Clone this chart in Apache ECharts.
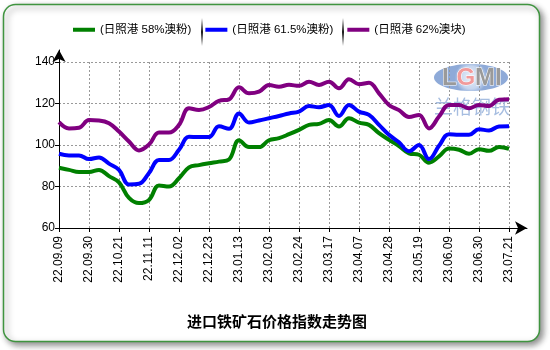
<!DOCTYPE html>
<html>
<head>
<meta charset="utf-8">
<script src="https://cdn.jsdelivr.net/npm/echarts@6/dist/echarts.min.js"></script>
<style>
html,body{margin:0;padding:0;background:#fff;}
#c{width:550px;height:350px;}
</style>
</head>
<body>
<div id="c"></div>
<script>
var categories = ['22.09.09','22.09.16','22.09.23','22.09.30','22.10.07','22.10.14','22.10.21','22.10.28','22.11.04','22.11.11','22.11.18','22.11.25','22.12.02','22.12.09','22.12.16','22.12.23','22.12.30','23.01.06','23.01.13','23.01.20','23.01.27','23.02.03','23.02.10','23.02.17','23.02.24','23.03.03','23.03.10','23.03.17','23.03.24','23.03.31','23.04.07','23.04.14','23.04.21','23.04.28','23.05.05','23.05.12','23.05.19','23.05.26','23.06.02','23.06.09','23.06.16','23.06.23','23.06.30','23.07.07','23.07.14','23.07.21'];

var seriesNames = ['(日照港 58%澳粉)', '(日照港 61.5%澳粉)', '(日照港 62%澳块)'];

var fines58 = [89,88,87,87,88,85,82,74.5,72,73.5,80.5,80,84,89.2,90.3,91.2,92,93,102.3,99,99,102.3,103.3,105.2,107.3,109.7,110.2,112,108.9,112.9,110.8,109.7,105.7,102.5,99.5,96,95.3,91.5,94.5,98.3,97.7,95.8,98,97.2,99,98.2];

var fines615 = [95.8,95,95,93.2,94,91,88,81,81.3,86.5,92.8,92.8,97.7,104,103.8,103.8,109,107.8,115.2,110.8,111.8,112.9,114,115.2,116.1,118.8,118.2,119.3,114,119.3,116.1,114.5,109.7,104.9,101.3,97,100,93.2,99.6,105.2,104.9,104.9,107.6,107,108.9,109];

var lump62 = [111,108,108.3,112,111.8,110.5,106.5,101.7,97.4,100.2,106,106,109.7,117.7,116.9,118.3,121.3,122,127.8,124.9,125.7,128.9,128.1,129,128.5,130.5,128.9,130.5,127.3,131.7,129.3,130,124.9,119.3,116.8,113.5,114.5,108,113.7,119.3,119.3,117.7,119.3,118.8,121.8,122];

var yTicks = [60, 80, 100, 120, 140];
var titleText = '进口铁矿石价格指数走势图';

var colors = ['#008000', '#0000ff', '#800080'];
var latin = "'Liberation Sans', 'Noto Sans CJK SC', sans-serif";

function sepGradient() {
  return new echarts.graphic.LinearGradient(0, 0, 0, 1, [
    {offset: 0, color: 'rgba(0,0,0,0)'},
    {offset: 0.5, color: 'rgba(0,0,0,0.9)'},
    {offset: 1, color: 'rgba(0,0,0,0)'}
  ]);
}

var chart = echarts.init(document.getElementById('c'), null, {renderer: 'canvas'});
var option = {
  animation: false,
  backgroundColor: '#fff',
  color: colors,
  title: {
    text: titleText,
    left: 272,
    textAlign: 'center',
    top: 309,
    textStyle: {fontSize: 15, fontWeight: 'bold', color: '#000', fontFamily: "'Noto Sans CJK SC', sans-serif"}
  },
  legend: {
    left: 73,
    top: 24,
    padding: 0,
    icon: 'rect',
    itemWidth: 22,
    itemHeight: 4,
    itemGap: 14,
    textStyle: {fontSize: 11.5, color: '#000', fontFamily: latin},
    data: seriesNames
  },
  graphic: [
    {type: 'rect', z: -100, silent: true,
     shape: {x: 3.5, y: 4.5, width: 536, height: 337, r: 12},
     style: {fill: '#fff', stroke: '#3f943f', lineWidth: 1.5,
             shadowBlur: 6, shadowOffsetX: 3, shadowOffsetY: 3, shadowColor: 'rgba(0,0,0,0.45)'}},
    {type: 'rect', z: 5, silent: true, shape: {x: 201, y: 18, width: 2, height: 28}, style: {fill: sepGradient()}},
    {type: 'rect', z: 5, silent: true, shape: {x: 342, y: 18, width: 2, height: 28}, style: {fill: sepGradient()}},
    {type: 'ellipse', z: 0, silent: true,
     shape: {cx: 471, cy: 77.5, rx: 37, ry: 13.5},
     style: {fill: new echarts.graphic.RadialGradient(0.5, 0.5, 0.6, [
       {offset: 0, color: '#eef2fa'}, {offset: 0.7, color: '#c5d5ee'}, {offset: 1, color: '#8eaad8'}])}},
    {type: 'text', z: 1, silent: true, x: 442, y: 78,
     style: {text: 'L', align: 'left', verticalAlign: 'middle', fontSize: 24, fontWeight: 'bold',
             fontFamily: latin, fill: '#9a9a9a', stroke: '#fff', lineWidth: 1}},
    {type: 'text', z: 1, silent: true, x: 456.5, y: 78,
     style: {text: 'G', align: 'left', verticalAlign: 'middle', fontSize: 24, fontWeight: 'bold',
             fontFamily: latin, fill: '#f29a9a', stroke: '#fff', lineWidth: 1}},
    {type: 'text', z: 1, silent: true, x: 475, y: 78,
     style: {text: 'MI', align: 'left', verticalAlign: 'middle', fontSize: 24, fontWeight: 'bold',
             fontFamily: latin, fill: '#9a9a9a', stroke: '#fff', lineWidth: 1}},
    {type: 'text', z: 1, silent: true, x: 472, y: 107,
     style: {text: '兰格钢铁', align: 'center', verticalAlign: 'middle', fontSize: 19,
             fontFamily: "'Noto Sans CJK SC', sans-serif", fill: '#a6bde0'}}
  ],
  grid: [
    {left: 59, right: 41, top: 62, bottom: 122},
    {left: 59, right: 23, top: 50, bottom: 122}
  ],
  xAxis: [
    {
      type: 'category', gridIndex: 0, data: categories, boundaryGap: false,
      axisLine: {show: false},
      axisTick: {show: true, interval: 2, length: 4, lineStyle: {color: '#000'}},
      axisLabel: {interval: 2, rotate: 90, margin: 8, fontSize: 12, color: '#000', fontFamily: latin},
      splitLine: {show: true, interval: 2, lineStyle: {color: '#999', type: [2, 2], width: 1}}
    },
    {
      type: 'value', gridIndex: 1, min: 0, max: 1,
      axisLine: {show: true, onZero: false, symbol: ['none', 'arrow'], symbolSize: [10, 12], lineStyle: {color: '#000', width: 1}},
      axisTick: {show: false}, axisLabel: {show: false}, splitLine: {show: false}
    }
  ],
  yAxis: [
    {
      type: 'value', gridIndex: 0, min: yTicks[0], max: yTicks[yTicks.length - 1], interval: 20,
      axisLine: {show: false},
      axisTick: {show: true, length: 4, lineStyle: {color: '#000'}},
      axisLabel: {margin: 4, fontSize: 12, color: '#000', fontFamily: latin},
      splitLine: {show: true, lineStyle: {color: '#999', type: [2, 2], width: 1}}
    },
    {
      type: 'value', gridIndex: 1, min: 0, max: 1,
      axisLine: {show: true, onZero: false, symbol: ['none', 'arrow'], symbolSize: [10, 12], lineStyle: {color: '#000', width: 1}},
      axisTick: {show: false}, axisLabel: {show: false}, splitLine: {show: false}
    }
  ],
  series: [
    {name: seriesNames[0], type: 'line', data: fines58, smooth: 0.4, showSymbol: false, z: 3, lineStyle: {width: 4, color: colors[0]}},
    {name: seriesNames[1], type: 'line', data: fines615, smooth: 0.4, showSymbol: false, z: 3, lineStyle: {width: 4, color: colors[1]}},
    {name: seriesNames[2], type: 'line', data: lump62, smooth: 0.4, showSymbol: false, z: 3, lineStyle: {width: 4, color: colors[2]}}
  ]
};
chart.setOption(option);
</script>
</body>
</html>
